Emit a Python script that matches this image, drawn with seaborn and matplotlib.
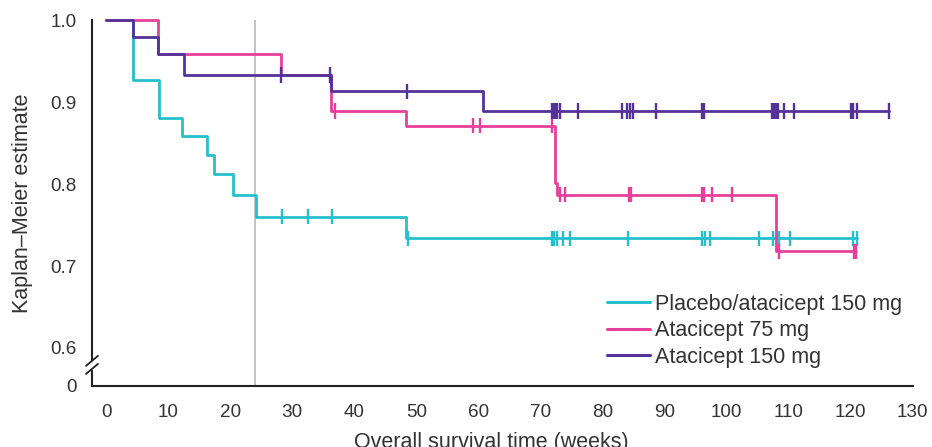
import numpy as np
import pandas as pd
import seaborn as sns
import matplotlib.pyplot as plt

sns.set_style("white")
plt.rcParams['font.family'] = ['Liberation Sans', 'DejaVu Sans']

# Kaplan-Meier step curves: change times (weeks) and estimate after the step
placebo_t = [0, 4.4, 8.6, 12.2, 16.3, 17.4, 20.5, 24.1, 48.4, 121.0]
placebo_s = [1.0, 0.927, 0.881, 0.859, 0.835, 0.812, 0.787, 0.760, 0.734, 0.734]
placebo_cens = [28.3, 32.5, 36.4, 48.6, 71.9, 72.2, 72.6, 73.6, 74.7, 84.1,
                96.1, 96.5, 97.4, 105.3, 107.5, 108.5, 110.2, 120.4, 121.0]

ata75_t = [0, 8.4, 28.2, 36.2, 48.4, 72.4, 72.7, 108.0, 120.9]
ata75_s = [1.0, 0.959, 0.933, 0.889, 0.871, 0.801, 0.787, 0.718, 0.718]
ata75_cens = [36.9, 59.1, 60.2, 71.9, 73.1, 73.9, 84.2, 84.6, 96.0, 96.4,
              97.7, 100.8, 108.4, 120.5, 120.9]

ata150_t = [0, 4.4, 8.3, 12.5, 36.2, 60.7, 126.2]
ata150_s = [1.0, 0.979, 0.959, 0.933, 0.913, 0.889, 0.889]
ata150_cens = [28.2, 36.1, 48.5, 71.8, 72.1, 72.4, 72.7, 73.1, 76.0, 83.2, 84.0,
               84.4, 84.9, 88.7, 96.0, 96.3, 107.4, 107.7, 108.0, 108.3, 109.2,
               110.8, 120.0, 120.3, 121.1, 126.2]

groups = ['Placebo/atacicept 150 mg', 'Atacicept 75 mg', 'Atacicept 150 mg']
colors = ['#25c0cd', '#e8409a', '#55329a']

ytick_vals = [0.554, 0.6, 0.7, 0.8, 0.9, 1.0]
ytick_labels = ['0', '0.6', '0.7', '0.8', '0.9', '1.0']
xtick_vals = list(range(0, 131, 10))

# long tables for seaborn
curves = [(placebo_t, placebo_s, placebo_cens), (ata75_t, ata75_s, ata75_cens),
          (ata150_t, ata150_s, ata150_cens)]
line_rows = []
cens_rows = []
for g, (t, s, c) in zip(groups, curves):
    for ti, si in zip(t, s):
        line_rows.append({'t': ti, 's': si, 'grp': g})
    # censor mark sits on the curve at that time
    for ci in c:
        idx = np.searchsorted(t, ci, side='right') - 1
        cens_rows.append({'t': ci, 's': s[idx], 'grp': g})
df_lines = pd.DataFrame(line_rows)
df_cens = pd.DataFrame(cens_rows)

fig = plt.figure(figsize=(9.32, 4.47), dpi=100)
ax = fig.add_axes([0.0987, 0.1371, 0.8806, 0.8181])

ax.axvline(24, color='#bdbdbd', lw=1.3, zorder=1)

sns.lineplot(data=df_lines, x='t', y='s', hue='grp', hue_order=groups, palette=colors,
             estimator=None, sort=False, drawstyle='steps-post', lw=2, ax=ax,
             clip_on=False, zorder=2)
sns.scatterplot(data=df_cens, x='t', y='s', hue='grp', hue_order=groups, palette=colors,
                marker='|', s=120, linewidth=1.7, legend=False, ax=ax, clip_on=False,
                zorder=3)

ax.set_xlim(-2.26, 130)
ax.set_ylim(0.554, 1.0)
ax.set_xticks(xtick_vals)
ax.set_yticks(ytick_vals)
ax.set_yticklabels(ytick_labels)
ax.tick_params(axis='both', direction='out', length=7, width=1.5, color='#222222',
               labelsize=13.6, labelcolor='#333333', pad=4)
ax.tick_params(axis='x', pad=6)

for side in ['top', 'right']:
    ax.spines[side].set_visible(False)
for side in ['left', 'bottom']:
    ax.spines[side].set_linewidth(1.5)
    ax.spines[side].set_color('#222222')

ax.set_xlabel('Overall survival time (weeks)', fontsize=15.5, color='#333333')
ax.set_ylabel('Kaplan\u2013Meier estimate', fontsize=15.5, color='#333333')
ax.xaxis.set_label_coords(0.487, -0.127)
ax.yaxis.set_label_coords(-0.072, 0.5)

# broken axis marks on the y spine
dx = 6 / 820.7
dy = 5 / 365.7
ax.plot([0, 0], [0.048, 0.066], transform=ax.transAxes, color='white', lw=2.5,
        clip_on=False, zorder=4)
for yc in [0.046, 0.068]:
    ax.plot([-dx, dx], [yc - dy, yc + dy], transform=ax.transAxes, color='#222222',
            lw=1.3, clip_on=False, zorder=5)

sns.move_legend(ax, loc='center left', bbox_to_anchor=(0.651, 0.26),
                bbox_transform=fig.transFigure, frameon=False, title=None,
                fontsize=15.5, handlelength=2.0, handletextpad=0.25,
                labelspacing=0.25, borderpad=0, borderaxespad=0)
leg = ax.get_legend()
for h in leg.get_lines():
    h.set_linewidth(2.2)
for txt in leg.get_texts():
    txt.set_color('#333333')

fig.savefig('out.png', dpi=100)
